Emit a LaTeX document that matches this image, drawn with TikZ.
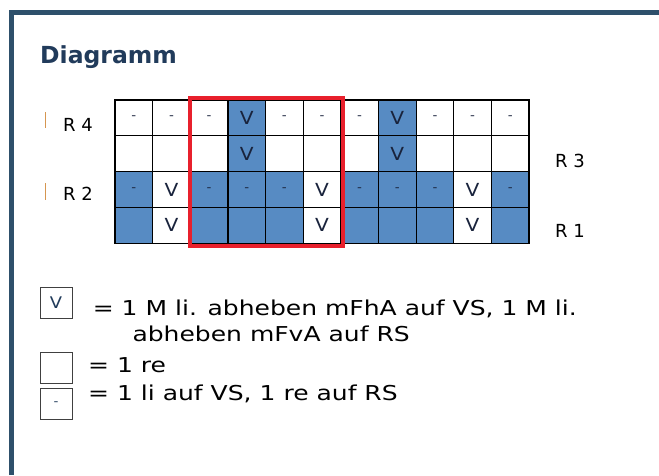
\documentclass[tikz,border=0pt]{standalone}
\usepackage{fontspec}
\setmainfont{DejaVu Sans}
\newfontfamily\legendfont[FakeStretch=1.22]{DejaVu Sans}
\newfontfamily\cellfont[FakeStretch=1.12]{DejaVu Sans}
\definecolor{frameblue}{RGB}{46,80,107}
\definecolor{titleblue}{RGB}{33,59,91}
\definecolor{cellblue}{RGB}{87,139,195}
\definecolor{boxred}{RGB}{232,32,44}
\definecolor{tickorange}{RGB}{214,150,80}
\definecolor{vtext}{RGB}{25,35,60}
\newcommand\knitv{V}
\newcommand\knitdash{{\fontsize{12}{12}\selectfont -}}
\begin{document}
\begin{tikzpicture}[x=1pt,y=-1pt,
  frame/.style={draw=frameblue,line width=5pt},
  cell/.style={draw=black,line width=1.2pt,minimum width=37.64pt,minimum height=35.8pt,inner sep=0pt,
    font=\cellfont\fontsize{18}{18}\selectfont,text=vtext},
  redbox/.style={draw=boxred,line width=4pt},
  rowlabel/.style={anchor=base west,inner sep=0pt,font=\fontsize{18}{18}\selectfont},
  tickmark/.style={draw=tickorange,line width=1pt},
  legbox/.style={draw=black!75,line width=1pt,inner sep=0pt,minimum width=32pt,minimum height=31pt,
    font=\cellfont\fontsize{16}{16}\selectfont,text=titleblue},
  legtext/.style={inner sep=0pt,font=\legendfont\fontsize{20.5}{20.5}\selectfont}]
\useasboundingbox (0,0) rectangle (659,475);
\fill[white] (0,0) rectangle (659,475);
% frame
\coordinate (f1) at (11,475);
\coordinate (f2) at (11,12.5);
\coordinate (f3) at (659,12.5);
\draw[frame] (f1) -- (f2) -- (f3);
% title
\node[anchor=base west,inner sep=0pt,font=\bfseries\fontsize{23.5}{23.5}\selectfont,text=titleblue] (title) at (40,63) {Diagramm};
% grid rows (top: R4, then R3, R2, R1)
\foreach \f/\t [count=\c] in {white/\knitdash,white/\knitdash,white/\knitdash,cellblue/\knitv,white/\knitdash,white/\knitdash,white/\knitdash,cellblue/\knitv,white/\knitdash,white/\knitdash,white/\knitdash}
  \node[cell,fill=\f] (a\c) at ({115+(\c-0.5)*37.64},117.9) {\t};
\foreach \f/\t [count=\c] in {white/{},white/{},white/{},cellblue/\knitv,white/{},white/{},white/{},cellblue/\knitv,white/{},white/{},white/{}}
  \node[cell,fill=\f] (b\c) at ({115+(\c-0.5)*37.64},153.7) {\t};
\foreach \f/\t [count=\c] in {cellblue/\knitdash,white/\knitv,cellblue/\knitdash,cellblue/\knitdash,cellblue/\knitdash,white/\knitv,cellblue/\knitdash,cellblue/\knitdash,cellblue/\knitdash,white/\knitv,cellblue/\knitdash}
  \node[cell,fill=\f] (d\c) at ({115+(\c-0.5)*37.64},189.5) {\t};
\foreach \f/\t [count=\c] in {cellblue/{},white/\knitv,cellblue/{},cellblue/{},cellblue/{},white/\knitv,cellblue/{},cellblue/{},cellblue/{},white/\knitv,cellblue/{}}
  \node[cell,fill=\f] (e\c) at ({115+(\c-0.5)*37.64},225.3) {\t};
% red box
\coordinate (rb1) at (189.5,98.3);
\coordinate (rb2) at (343,246);
\draw[redbox] (rb1) rectangle (rb2);
% row labels
\node[rowlabel] (R4) at (63,131.5) {R 4};
\node[rowlabel] (R2) at (63,200) {R 2};
\node[rowlabel] (R3) at (555,167) {R 3};
\node[rowlabel] (R1) at (555,237) {R 1};
\coordinate (t1a) at (45,112); \coordinate (t1b) at (45,128);
\coordinate (t2a) at (45,183); \coordinate (t2b) at (45,200);
\draw[tickmark] (t1a) -- (t1b);
\draw[tickmark] (t2a) -- (t2b);
% legend
\node[legbox] (lv) at (56,302.5) {V};
\node[legbox] (le) at (56,368) {};
\node[legbox] (ld) at (56,404) {\knitdash};
\node[legtext,anchor=base east] (l1) at (577,315) {= 1 M li. abheben mFhA auf VS, 1 M li.};
\node[legtext,anchor=base east] (l2) at (410,341) {abheben mFvA auf RS};
\node[legtext,anchor=base west] (l3) at (88,372) {= 1 re};
\node[legtext,anchor=base west] (l4) at (88,400) {= 1 li auf VS, 1 re auf RS};
\end{tikzpicture}
\end{document}
